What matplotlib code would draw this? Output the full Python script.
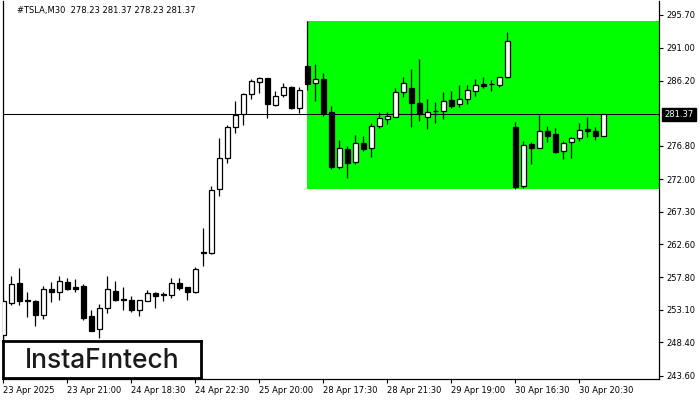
import matplotlib
matplotlib.use("Agg")
import matplotlib.pyplot as plt
from matplotlib.patches import Rectangle
import numpy as np

# ---- data ----
opens = [249.5, 254.1, 256.98, 254.57, 254.43, 252.31, 256.12, 255.63, 257.13, 256.41,
         256.5, 252.27, 250.39, 253.38, 255.87, 254.67, 254.57, 253.03, 254.43, 255.54,
         255.4, 255.3, 256.98, 256.35, 255.63, 261.5, 261.31, 270.55, 274.97, 279.5,
         281.37, 284.26, 285.99, 286.57, 282.67, 284.11, 285.27, 282.32, 288.34, 285.84,
         286.42, 281.66, 273.81, 276.32, 274.53, 277.19, 276.46, 279.68, 280.74, 281.03,
         284.55, 285.12, 282.96, 281.03, 281.8, 281.85, 283.43, 282.81, 283.54, 284.78,
         285.7, 285.7, 285.65, 286.71, 279.5, 271.07, 277.08, 276.55, 278.92, 278.49,
         276.08, 277.33, 277.91, 279.25, 278.92, 278.23]
highs = [255.0, 257.94, 259.15, 255.69, 254.5, 256.6, 257.13, 258.04, 257.71, 257.6,
         256.84, 253.13, 254.0, 257.94, 257.32, 256.41, 255.05, 254.6, 255.92, 255.69,
         255.69, 257.71, 257.71, 256.4, 259.3, 264.92, 271.02, 277.91, 279.83, 283.33,
         284.49, 286.46, 286.71, 286.6, 284.78, 285.84, 285.4, 285.27, 294.9, 288.63,
         287.29, 282.57, 277.66, 276.8, 278.38, 278.24, 280.07, 281.66, 281.66, 285.12,
         286.71, 287.86, 289.31, 283.54, 283.1, 284.55, 284.73, 285.6, 285.6, 286.42,
         286.71, 286.32, 286.71, 293.2, 280.22, 277.52, 277.42, 281.27, 279.68, 279.44,
         277.52, 278.14, 280.07, 280.94, 279.54, 281.37]
lows = [248.0, 253.85, 253.85, 252.02, 250.72, 251.83, 254.19, 254.47, 255.92, 255.63,
        251.69, 250.0, 249.05, 252.66, 254.33, 253.13, 252.8, 252.27, 254.33, 253.38,
        254.33, 254.82, 256.0, 254.57, 255.5, 259.38, 261.2, 269.62, 274.39, 278.72,
        279.83, 283.58, 284.4, 280.88, 282.6, 283.82, 282.1, 281.52, 284.88, 283.33,
        281.17, 273.48, 273.48, 272.22, 274.2, 276.12, 275.17, 279.44, 279.97, 280.9,
        283.82, 279.58, 280.45, 279.29, 280.16, 280.74, 282.32, 282.47, 282.8, 284.06,
        285.2, 284.78, 285.3, 286.6, 270.6, 270.78, 274.2, 276.5, 277.42, 275.8,
        274.92, 275.1, 277.5, 278.14, 277.66, 278.23]
closes = [254.43, 256.84, 254.33, 254.33, 252.31, 256.12, 255.63, 257.32, 256.16, 256.16,
          251.93, 250.1, 253.38, 256.12, 254.57, 254.47, 253.03, 254.57, 255.54, 255.15,
          255.2, 256.98, 256.26, 255.69, 259.05, 261.31, 270.45, 275.02, 279.5, 281.23,
          284.26, 286.13, 286.57, 282.81, 284.05, 285.27, 282.32, 284.88, 285.7, 286.42,
          281.52, 273.81, 276.46, 274.39, 277.19, 276.41, 279.68, 280.79, 281.08, 284.55,
          285.84, 283.05, 281.37, 281.75, 281.85, 283.33, 282.61, 283.54, 284.88, 285.6,
          285.5, 285.72, 286.71, 291.95, 270.92, 276.9, 276.55, 278.92, 278.28, 275.97,
          277.27, 277.91, 279.1, 279.0, 278.28, 281.37]

xtick_bars = [0, 8, 16, 24, 32, 40, 48, 56, 64, 72]
xtick_labels = ["23 Apr 2025", "23 Apr 21:00", "24 Apr 18:30", "24 Apr 22:30",
                "25 Apr 20:00", "28 Apr 17:30", "28 Apr 21:30", "29 Apr 19:00",
                "30 Apr 16:30", "30 Apr 20:30"]
ytick_values = [295.70, 291.00, 286.20, 276.80, 272.00, 267.30, 262.60,
                257.80, 253.10, 248.40, 243.60]
current_price = 281.37
rect_start_bar = 38
title_text = "#TSLA,M30  278.23 281.37 278.23 281.37"

# ---- figure ----
W, H = 700, 400
fig = plt.figure(figsize=(7, 4), dpi=100)
ax_left, ax_right, ax_top, ax_bottom = 2.5, 659, 1, 379
ax = fig.add_axes([ax_left / W, 1 - ax_bottom / H,
                   (ax_right - ax_left) / W, (ax_bottom - ax_top) / H])

n = len(opens)
x = np.arange(n)
ax.set_xlim(-0.125, 81.94)
ax.set_ylim(243.12, 297.72)

# green rectangle pattern
rtop = max(highs[rect_start_bar:])
rbot = min(lows[rect_start_bar:])
ax.add_patch(Rectangle((rect_start_bar, rbot), 200, rtop - rbot,
                       facecolor="#00ff00", edgecolor="none", zorder=1))

# price line
ax.axhline(current_price, color="black", lw=0.75, zorder=2)

# candles
o = np.array(opens); c = np.array(closes)
hi = np.array(highs); lo = np.array(lows)
ax.vlines(x, lo, hi, color="black", lw=0.9, zorder=3)
bull = c >= o
bottoms = np.minimum(o, c)
heights = np.abs(c - o)
ax.bar(x[bull], heights[bull], bottom=bottoms[bull], width=0.55,
       facecolor="white", edgecolor="black", linewidth=0.9, zorder=4)
ax.bar(x[~bull], heights[~bull], bottom=bottoms[~bull], width=0.55,
       facecolor="black", edgecolor="black", linewidth=0.9, zorder=4)

# spines
for s in ["left", "right", "bottom"]:
    ax.spines[s].set_color("black")
    ax.spines[s].set_linewidth(0.9)
ax.spines["top"].set_visible(False)

font = "DejaVu Sans"
fs = 6

# y axis on right
ax.yaxis.tick_right()
ax.set_yticks(ytick_values)
ax.set_yticklabels([f"{v:.2f}" for v in ytick_values], fontsize=fs, family=font)
ax.tick_params(axis="y", direction="out", length=3, width=0.8, pad=2, colors="black")

# x axis
ax.set_xticks(xtick_bars)
ax.set_xticklabels(xtick_labels, fontsize=fs, family=font, ha="left")
ax.tick_params(axis="x", direction="out", length=3, width=0.8, pad=2)

# current price label
ax.annotate(f"{current_price:.2f}", xy=(1, current_price),
            xycoords=("axes fraction", "data"), xytext=(4, 0),
            textcoords="offset points", ha="left", va="center",
            fontsize=fs, family=font, color="white",
            bbox=dict(boxstyle="square,pad=0.25", fc="black", ec="black"),
            annotation_clip=False, zorder=10)

# title
fig.text(17 / W, 1 - 11 / H, title_text, fontsize=fs, family=font,
         ha="left", va="center", color="black")

# logo box
logo_ax = fig.add_axes([2.7 / W, 1 - 378 / H, (201 - 2.7) / W, (378 - 341) / H])
logo_ax.set_xticks([]); logo_ax.set_yticks([])
logo_ax.set_facecolor("white")
for s in logo_ax.spines.values():
    s.set_linewidth(2)
    s.set_color("black")
logo_ax.text(0.5, 0.47, "InstaF\u0131ntech", fontsize=19, family="Inter",
             fontweight="medium", color="#1a1a1a", ha="center", va="center")

fig.savefig("out.png", dpi=100)
